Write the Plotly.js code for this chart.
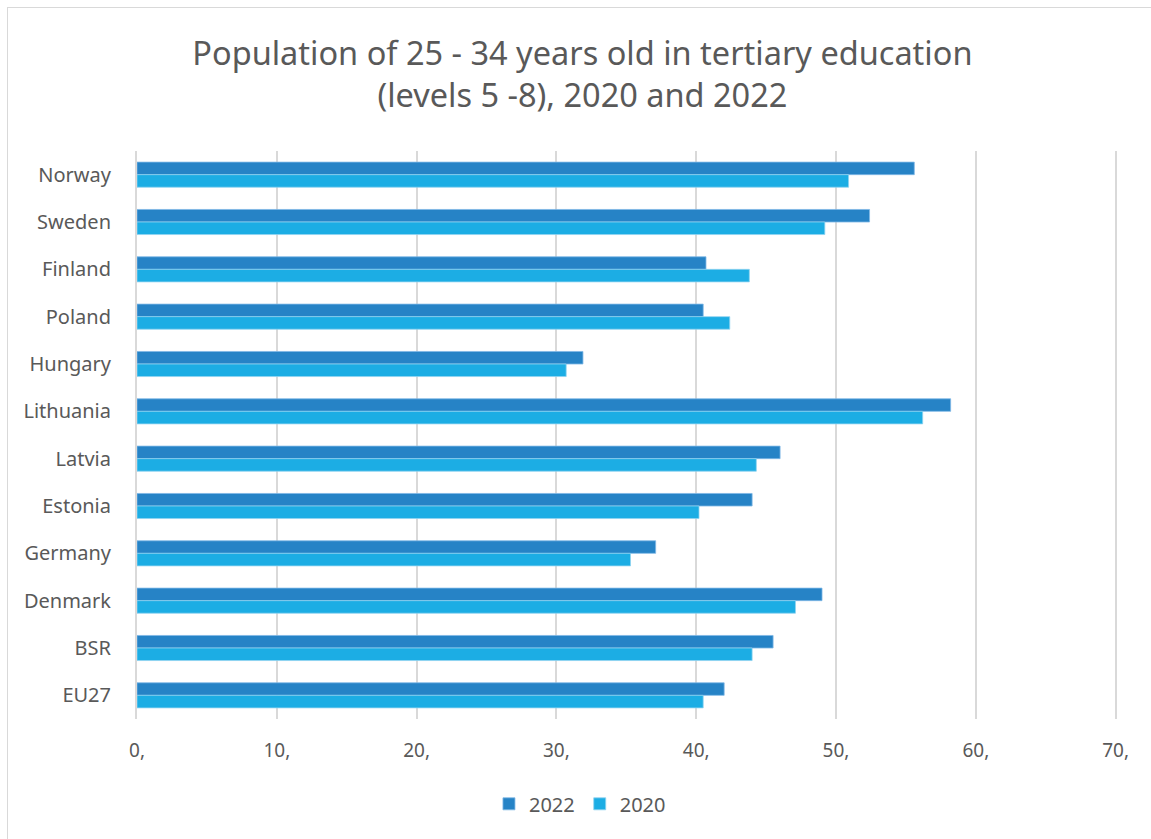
<!DOCTYPE html>
<html>
<head>
<meta charset="utf-8">
<script src="https://cdn.plot.ly/plotly-3.0.1.min.js"></script>
<style>
  html, body { margin: 0; padding: 0; background: #fff; }
  #wrap { position: relative; width: 1151px; height: 839px; overflow: hidden; }
  #chart { position: absolute; left: 0; top: 0; width: 1151px; height: 839px; }
  #frame { position: absolute; left: 7px; top: 7px; width: 1160px; height: 850px;
           border: 1px solid #d9d9d9; box-sizing: border-box; pointer-events: none; }
</style>
</head>
<body>
<div id="wrap">
  <div id="chart"></div>
  <div id="frame"></div>
</div>
<script>
const categories = ["Norway", "Sweden", "Finland", "Poland", "Hungary", "Lithuania",
                    "Latvia", "Estonia", "Germany", "Denmark", "BSR", "EU27"];
const values2022 = [55.6, 52.4, 40.7, 40.5, 31.9, 58.2, 46.0, 44.0, 37.1, 49.0, 45.5, 42.0];
const values2020 = [50.9, 49.2, 43.8, 42.4, 30.7, 56.2, 44.3, 40.2, 35.3, 47.1, 44.0, 40.5];
const tickValues = [0, 10, 20, 30, 40, 50, 60, 70];
const tickLabels = ["0,", "10,", "20,", "30,", "40,", "50,", "60,", "70,"];

const FONT = "Noto Sans, Open Sans, sans-serif";
const textColor = "#595959";

const traces = [
  {
    type: "bar", orientation: "h", name: "2022",
    y: categories, x: values2022,
    marker: { color: "#2683C6", line: { color: "#7fb8e6", width: 0.8 } },
    hoverinfo: "x+y"
  },
  {
    type: "bar", orientation: "h", name: "2020",
    y: categories, x: values2020,
    marker: { color: "#1CADE4", line: { color: "#8fd3f0", width: 0.8 } },
    hoverinfo: "x+y"
  }
];

const layout = {
  width: 1151, height: 839,
  paper_bgcolor: "#ffffff", plot_bgcolor: "#ffffff",
  margin: { l: 137, r: 34, t: 151, b: 120 },
  font: { family: FONT, color: textColor, size: 19 },
  title: {
    text: "Population of 25 - 34 years old in tertiary education<br>(levels 5 -8), 2020 and 2022",
    font: { family: FONT, size: 32.5, color: textColor },
    x: 0.506, xanchor: "center", xref: "container",
    y: 0.923, yanchor: "middle", yref: "container"
  },
  barmode: "group",
  bargap: 0.47,
  bargroupgap: 0,
  xaxis: {
    range: [0, 70.1],
    tickvals: tickValues, ticktext: tickLabels,
    showgrid: true, gridcolor: "#d9d9d9", gridwidth: 2,
    zeroline: false, showline: false,
    ticks: "", ticklabelstandoff: 18,
    tickfont: { family: FONT, size: 19, color: textColor },
    fixedrange: true
  },
  yaxis: {
    type: "category",
    autorange: "reversed",
    showgrid: false, zeroline: false,
    showline: true, linecolor: "#d9d9d9", linewidth: 2,
    ticks: "", ticklabelstandoff: 20,
    tickfont: { family: FONT, size: 20, color: textColor },
    fixedrange: true
  },
  showlegend: true,
  legend: {
    orientation: "h",
    x: 0.452, xanchor: "center",
    y: -0.115, yanchor: "top",
    font: { family: FONT, size: 20, color: textColor },
    itemwidth: 30,
    traceorder: "normal"
  }
};

Plotly.newPlot("chart", traces, layout, { displayModeBar: false, staticPlot: true });
</script>
</body>
</html>
